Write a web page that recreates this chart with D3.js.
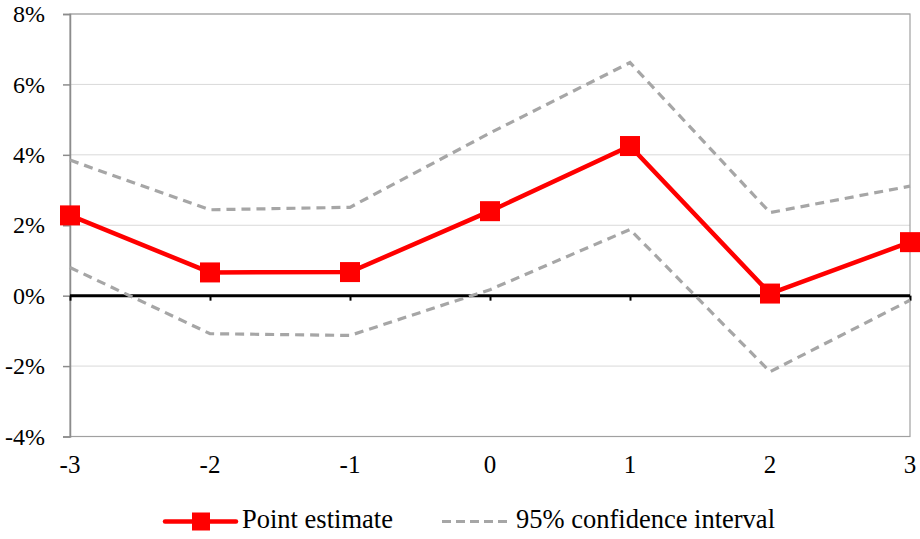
<!DOCTYPE html>
<html><head><meta charset="utf-8">
<script src="https://cdn.jsdelivr.net/npm/d3@7"></script>
<style>body{margin:0;background:#fff}svg{display:block}</style>
</head><body><svg id="c" width="920" height="539"></svg>
<script>
const categories = [-3, -2, -1, 0, 1, 2, 3];
const pointEstimate = [2.28, 0.66, 0.67, 2.40, 4.25, 0.06, 1.52];
const upperCI = [3.85, 2.44, 2.51, 4.62, 6.62, 2.36, 3.11];
const lowerCI = [0.80, -1.08, -1.13, 0.17, 1.88, -2.16, -0.13];
const yTicks = [-4, -2, 0, 2, 4, 6, 8];
const legendLabels = ["Point estimate", "95% confidence interval"];

const FONT = "'Liberation Serif', 'Times New Roman', Times, serif";
const svg = d3.select("#c");
const L = 70, R = 910, T = 14, B = 436.5;
const x = d3.scalePoint().domain(categories).range([L, R]);
const y = d3.scaleLinear().domain([-4, 8]).range([B, T]);

svg.append("g").selectAll("line").data(yTicks.filter(d => d !== 0 && d !== -4)).join("line")
  .attr("x1", L).attr("x2", R).attr("y1", d => y(d)).attr("y2", d => y(d))
  .attr("stroke", "#d9d9d9").attr("stroke-width", 1);
svg.append("rect").attr("x", L).attr("y", T).attr("width", R - L).attr("height", B - T)
  .attr("fill", "none").attr("stroke", "#a0a0a0").attr("stroke-width", 1.2);

const yAxis = svg.append("g").attr("transform", `translate(${L},0)`)
  .call(d3.axisLeft(y).tickValues(yTicks).tickFormat(d => d + "%").tickSize(7).tickPadding(18));
yAxis.attr("font-family", FONT);
yAxis.select(".domain").attr("stroke", "#8c8c8c").attr("stroke-width", 1.5);
yAxis.selectAll(".tick line").attr("stroke", "#8c8c8c").attr("stroke-width", 1.5);
yAxis.selectAll("text").attr("font-size", 24).attr("fill", "#000");

const xAxis = svg.append("g").attr("transform", `translate(0,${y(0)})`)
  .call(d3.axisBottom(x).tickSize(5).tickFormat(""));
xAxis.select(".domain").attr("stroke", "#000").attr("stroke-width", 3).attr("d", `M${L},0H${R}`);
xAxis.selectAll(".tick line").attr("stroke", "#000").attr("stroke-width", 2);

svg.append("g").attr("font-family", FONT).selectAll("text").data(categories).join("text")
  .attr("x", d => x(d)).attr("y", 467).attr("text-anchor", "middle")
  .attr("dominant-baseline", "middle").attr("font-size", 25).attr("fill", "#000")
  .text(d => d);

const line = d3.line().x((d, i) => x(categories[i])).y(d => y(d));
[upperCI, lowerCI].forEach(s => {
  svg.append("path").datum(s).attr("d", line).attr("fill", "none")
    .attr("stroke", "#a6a6a6").attr("stroke-width", 3.2).attr("stroke-dasharray", "9,6");
});
svg.append("path").datum(pointEstimate).attr("d", line).attr("fill", "none")
  .attr("stroke", "#ff0000").attr("stroke-width", 4.5);
svg.append("g").selectAll("rect").data(pointEstimate).join("rect")
  .attr("x", (d, i) => x(categories[i]) - 10).attr("y", d => y(d) - 10)
  .attr("width", 20).attr("height", 20).attr("fill", "#ff0000");

const ly = 521.5;
svg.append("line").attr("x1", 165).attr("x2", 236).attr("y1", ly).attr("y2", ly)
  .attr("stroke", "#ff0000").attr("stroke-width", 4.5).attr("stroke-linecap", "round");
svg.append("rect").attr("x", 192).attr("y", ly - 9).attr("width", 18).attr("height", 18).attr("fill", "#ff0000");
svg.append("text").attr("x", 242).attr("y", ly).attr("dominant-baseline", "middle")
  .attr("font-size", 26.5).attr("font-family", FONT).text(legendLabels[0]);
svg.append("line").attr("x1", 442).attr("x2", 511).attr("y1", ly).attr("y2", ly)
  .attr("stroke", "#a6a6a6").attr("stroke-width", 3.2).attr("stroke-dasharray", "9,5");
svg.append("text").attr("x", 516).attr("y", ly).attr("dominant-baseline", "middle")
  .attr("font-size", 26.5).attr("font-family", FONT).text(legendLabels[1]);
</script></body></html>
